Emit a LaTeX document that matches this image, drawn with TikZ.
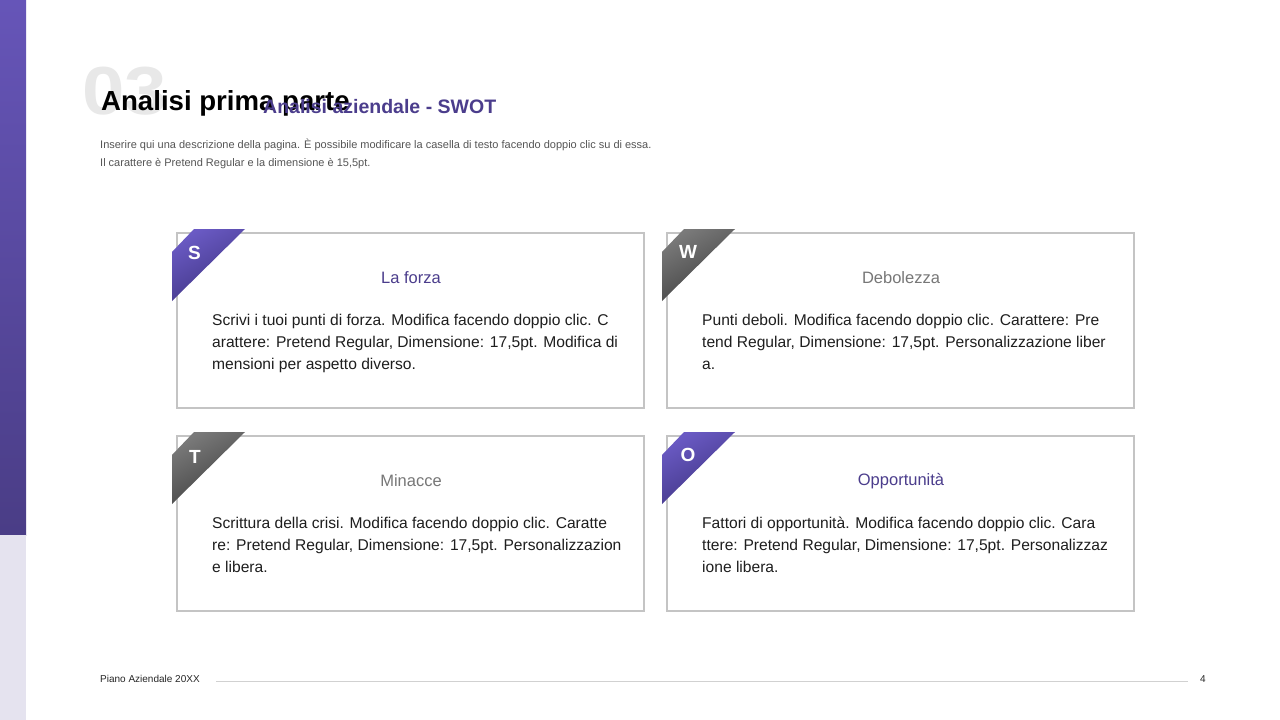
\documentclass[tikz,border=0pt]{standalone}
\usepackage{fontspec}
\setmainfont{Liberation Sans}
\usetikzlibrary{shadings}
\definecolor{purp}{HTML}{4B3D8C}
\definecolor{purpL}{HTML}{6A5AC4}
\definecolor{purpD}{HTML}{3E3380}
\definecolor{barT}{HTML}{6655B8}
\definecolor{barB}{HTML}{4A3D86}
\definecolor{greyL}{HTML}{7A7A7A}
\definecolor{greyD}{HTML}{3E3E3E}
\definecolor{cardline}{HTML}{C4C4C4}
\definecolor{titlegrey}{HTML}{777777}
\definecolor{bodytxt}{HTML}{1E1E1E}
\definecolor{desc}{HTML}{555555}
\definecolor{lav}{HTML}{E5E3EF}
\tikzset{
  card/.style={draw=cardline, line width=1.4pt, fill=white},
  cardtitle/.style={anchor=base, font=\fontsize{16.5}{19}\selectfont},
  bodytext/.style={anchor=base west, align=left, text=bodytxt, inner sep=0pt,
     font=\fontsize{15.6}{22}\selectfont},
  tagletter/.style={text=white, font=\bfseries\fontsize{19}{22}\selectfont},
}
\begin{document}
\begin{tikzpicture}[x=1pt,y=-1pt]
\useasboundingbox (0,0) rectangle (1280,720);
\fill[white] (0,0) rectangle (1280,720);
% left bar
\shade[top color=barT, bottom color=barB] (0,0) rectangle (26,535);
\fill[lav] (0,535) rectangle (26,720);
% header
\node[anchor=base west, inner sep=0pt, text=black!9, font=\bfseries\fontsize{68}{68}\selectfont] (num) at (82,114) {\scalebox{1.12}[1]{03}};
\node[anchor=base west, inner sep=0pt, text=black, font=\bfseries\fontsize{27.6}{30}\selectfont] (title) at (101,110) {Analisi prima parte};
\node[anchor=base west, inner sep=0pt, text=purp, font=\bfseries\fontsize{19.5}{22}\selectfont] (subtitle) at (263,113) {Analisi aziendale - SWOT};
\node[anchor=base west, inner sep=0pt, text=desc, align=left, font=\fontsize{11}{18}\selectfont] (descr) at (100,166)
 {Inserire qui una descrizione della pagina. È possibile modificare la casella di testo facendo doppio clic su di essa.\\
  Il carattere è Pretend Regular e la dimensione è 15,5pt.};
% cards
\foreach \nm/\x/\y in {cs/177/233, cw/667/233, ct/177/436, co/667/436}{
  \draw[card] (\x,\y) rectangle ++(467,175);
  \coordinate (\nm) at (\x,\y);
}
% tags
\shade[top color=purpL, bottom color=purpD, shading angle=30]
  (194,229) -- (245,229) -- (172,301) -- (172,252) -- cycle;
\shade[top color=greyL, bottom color=greyD, shading angle=30]
  (684,229) -- (735,229) -- (662,301) -- (662,252) -- cycle;
\shade[top color=greyL, bottom color=greyD, shading angle=30]
  (194,432) -- (245,432) -- (172,504) -- (172,455) -- cycle;
\shade[top color=purpL, bottom color=purpD, shading angle=30]
  (684,432) -- (735,432) -- (662,504) -- (662,455) -- cycle;
\node[tagletter] (ls) at (194.5,253) {S};
\node[tagletter] (lw) at (688,252) {W};
\node[tagletter] (lt) at (195,457) {T};
\node[tagletter] (lo) at (688,455) {O};
% titles
\node[cardtitle, text=purp] (tS) at (411,283) {La forza};
\node[cardtitle, text=titlegrey] (tW) at (901,283) {Debolezza};
\node[cardtitle, text=titlegrey] (tT) at (411,486) {Minacce};
\node[cardtitle, text=purp] (tO) at (901,485) {Opportunità};
% bodies (anchor at baseline of last line)
\node[bodytext] (bS) at (212,369) {Scrivi i tuoi punti di forza. Modifica facendo doppio clic. C\\arattere: Pretend Regular, Dimensione: 17,5pt. Modifica di\\mensioni per aspetto diverso.};
\node[bodytext] (bW) at (702,369) {Punti deboli. Modifica facendo doppio clic. Carattere: Pre\\tend Regular, Dimensione: 17,5pt. Personalizzazione liber\\a.};
\node[bodytext] (bT) at (212,572) {Scrittura della crisi. Modifica facendo doppio clic. Caratte\\re: Pretend Regular, Dimensione: 17,5pt. Personalizzazion\\e libera.};
\node[bodytext] (bO) at (702,572) {Fattori di opportunità. Modifica facendo doppio clic. Cara\\ttere: Pretend Regular, Dimensione: 17,5pt. Personalizzaz\\ione libera.};
% footer
\node[anchor=base west, inner sep=0pt, text=black!85, font=\fontsize{10}{11}\selectfont] (foot) at (100,682) {Piano Aziendale 20XX};
\node[anchor=base west, inner sep=0pt, text=black!85, font=\fontsize{10}{11}\selectfont] (pg) at (1200,682) {4};
\coordinate (fl1) at (216,681);
\coordinate (fl2) at (1188,681);
\draw[black!18, line width=1pt] (fl1) -- (fl2);
\end{tikzpicture}
\end{document}
